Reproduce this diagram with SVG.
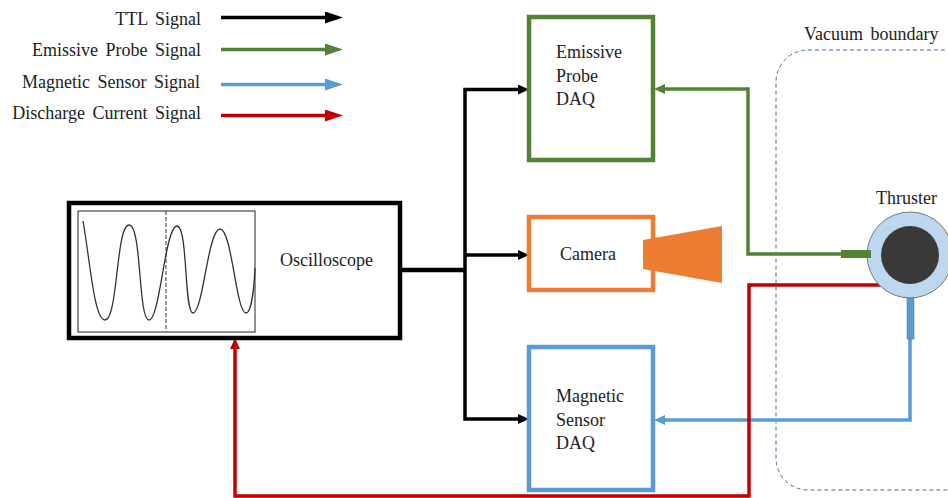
<svg xmlns="http://www.w3.org/2000/svg" width="948" height="498" viewBox="0 0 948 498">
<style>
text{font-family:"Liberation Serif","Times New Roman",serif;font-size:18px;fill:#222;word-spacing:3px}
.c{fill:none;stroke-width:3.5}
.k{stroke:#000}.g{stroke:#548235}.b{stroke:#5b9bd5}.r{stroke:#c00000}
.box{fill:#fff;stroke-width:4.5}
</style>
<defs>
<marker id="mk" markerUnits="userSpaceOnUse" markerWidth="11" markerHeight="10" refX="2" refY="5" orient="auto"><path d="M0 0L11 5L0 10Z" fill="#000"/></marker>
<marker id="mg" markerUnits="userSpaceOnUse" markerWidth="11" markerHeight="10" refX="2" refY="5" orient="auto"><path d="M0 0L11 5L0 10Z" fill="#548235"/></marker>
<marker id="mb" markerUnits="userSpaceOnUse" markerWidth="11" markerHeight="10" refX="2" refY="5" orient="auto"><path d="M0 0L11 5L0 10Z" fill="#5b9bd5"/></marker>
<marker id="mr" markerUnits="userSpaceOnUse" markerWidth="11" markerHeight="10" refX="2" refY="5" orient="auto"><path d="M0 0L11 5L0 10Z" fill="#c00000"/></marker>
<marker id="lk" markerUnits="userSpaceOnUse" markerWidth="18" markerHeight="12" refX="2" refY="6" orient="auto"><path d="M0 0L18 6L0 12Z" fill="#000"/></marker>
<marker id="lg" markerUnits="userSpaceOnUse" markerWidth="18" markerHeight="12" refX="2" refY="6" orient="auto"><path d="M0 0L18 6L0 12Z" fill="#548235"/></marker>
<marker id="lb" markerUnits="userSpaceOnUse" markerWidth="18" markerHeight="12" refX="2" refY="6" orient="auto"><path d="M0 0L18 6L0 12Z" fill="#5b9bd5"/></marker>
<marker id="lr" markerUnits="userSpaceOnUse" markerWidth="18" markerHeight="12" refX="2" refY="6" orient="auto"><path d="M0 0L18 6L0 12Z" fill="#c00000"/></marker>
</defs>
<g id="legend">
<text x="201" y="25" text-anchor="end">TTL Signal</text>
<text x="201" y="56" text-anchor="end">Emissive Probe Signal</text>
<text x="200" y="88" text-anchor="end">Magnetic Sensor Signal</text>
<text x="201" y="119" text-anchor="end">Discharge Current Signal</text>
<path class="c k" marker-end="url(#lk)" d="M221 17.500H327"/>
<path class="c g" marker-end="url(#lg)" d="M221 49.500H327"/>
<path class="c b" marker-end="url(#lb)" d="M221 84.500H327"/>
<path class="c r" marker-end="url(#lr)" d="M221 115.500H327"/>
</g>
<g id="boundary"><rect x="776" y="50" width="200" height="440" rx="32" fill="none" stroke="#41719c" stroke-width="1" stroke-dasharray="4 3"/>
<text x="804" y="40">Vacuum boundary</text></g>
<g id="connectors">
<path fill="none" stroke="#000" stroke-width="4.500" d="M400 270H465"/>
<path class="c k" marker-end="url(#mk)" d="M465 270V89.500H520"/>
<path class="c k" marker-end="url(#mk)" d="M465 255H520"/>
<path class="c k" marker-end="url(#mk)" d="M465 270V419H520"/>
<path class="c g" marker-end="url(#mg)" d="M842 254H748V89H663"/>
<path class="c b" marker-end="url(#mb)" d="M910 338V420H663"/>
<path class="c r" marker-end="url(#mr)" d="M881 285H749V496H235V347"/>
</g>
<g id="oscilloscope">
<rect class="box" x="69" y="203" width="331" height="135" stroke="#000"/>
<rect x="78" y="211" width="177" height="121" fill="#fff" stroke="#222" stroke-width="1"/>
<path d="M166 211V332" fill="none" stroke="#333" stroke-width="1" stroke-dasharray="4 2"/>
<path d="M83 221C90 260 94 320 105 320C118 320 116 225 129 225C142 225 138 320 149 320C160 320 165 226 177 226C188 226 184 313 193 313C203 313 208 229 220 229C232 229 236 313 246 313C251 313 254 290 255 268" fill="none" stroke="#333" stroke-width="1.300"/>
<text x="280" y="266" style="word-spacing:0">Oscilloscope</text>
</g>
<g id="emissive-daq">
<rect class="box" x="529" y="17" width="124" height="143" stroke="#548235"/>
<text x="556" y="58">Emissive</text><text x="556" y="82">Probe</text><text x="556" y="105">DAQ</text>
</g>
<g id="camera">
<path d="M643 240L722 226V283L643 269Z" fill="#ed7d31"/>
<rect x="529" y="217" width="124" height="73" fill="none" stroke="#ed7d31" stroke-width="4.500"/>
<text x="560" y="260">Camera</text>
</g>
<g id="magnetic-daq">
<rect class="box" x="529" y="347" width="124" height="143" stroke="#5b9bd5"/>
<text x="556" y="402">Magnetic</text><text x="556" y="426">Sensor</text><text x="556" y="449">DAQ</text>
</g>
<g id="thruster">
<text x="876" y="204" style="word-spacing:0">Thruster</text>
<circle cx="910" cy="255" r="43" fill="#bdd7ee" stroke="#777" stroke-width="1"/>
<circle cx="910" cy="255" r="29" fill="#3b3838"/>
<rect x="841" y="250" width="30" height="8" fill="#548235"/>
<rect x="907" y="298" width="7" height="41" fill="#5b9bd5" stroke="#41719c" stroke-width="0.500"/>
</g>
</svg>
